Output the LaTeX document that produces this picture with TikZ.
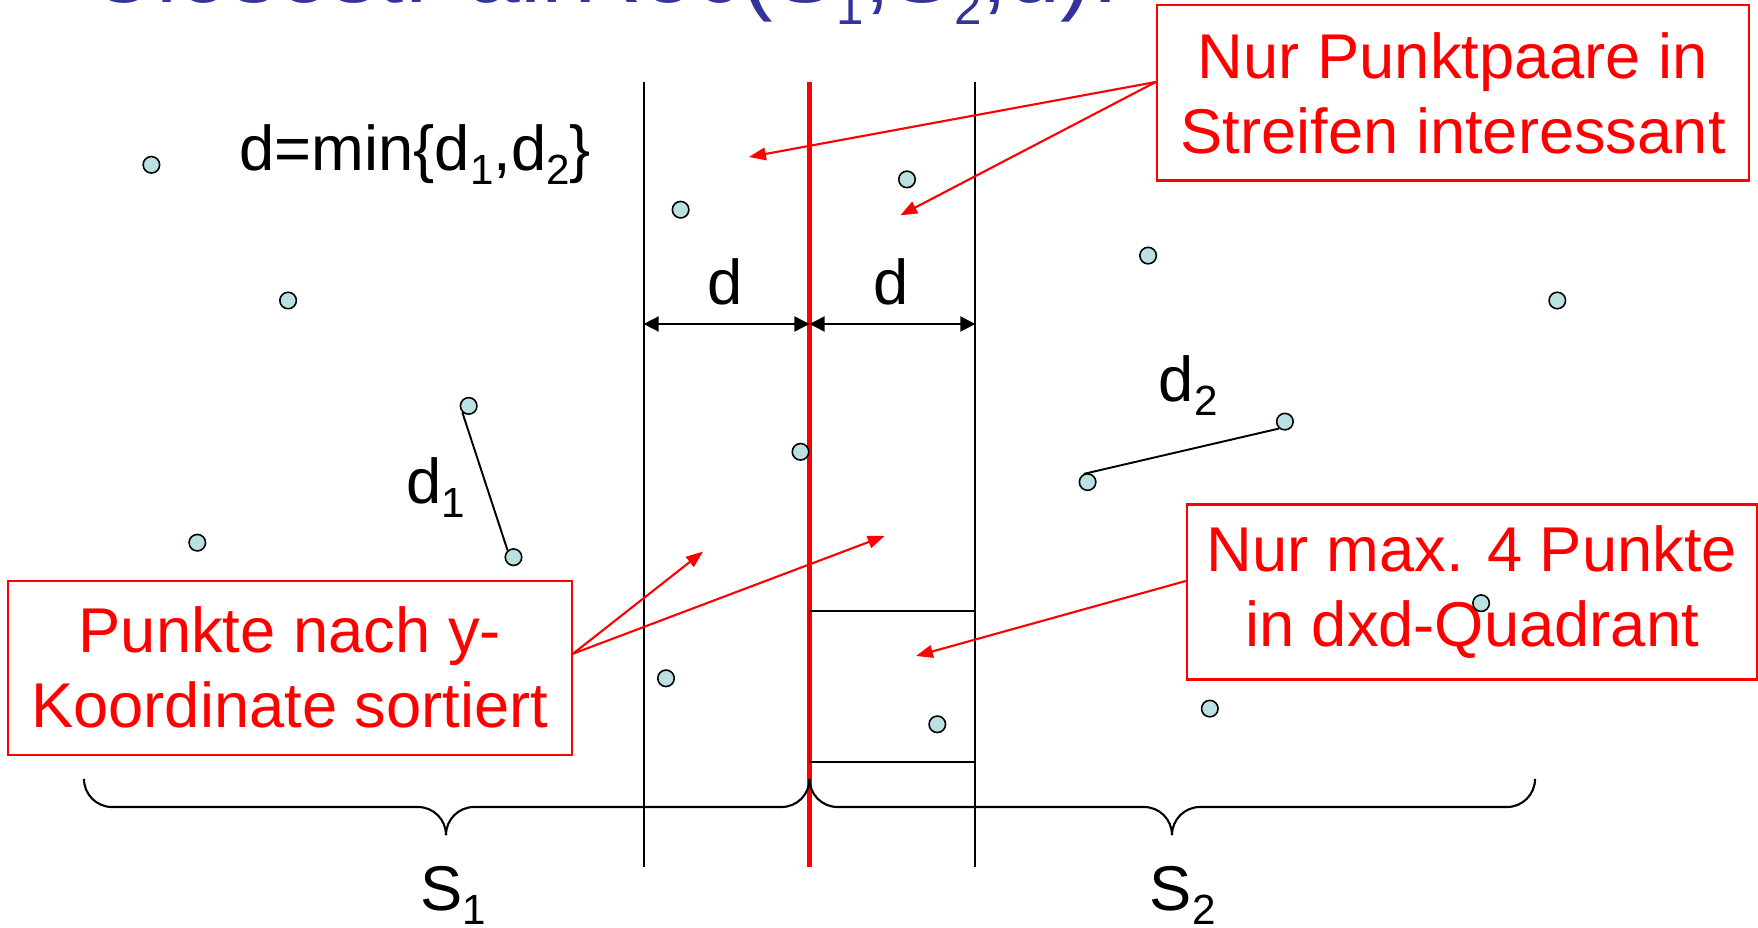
\documentclass[tikz,border=0pt]{standalone}
\usepackage{fontspec}
\setmainfont{Liberation Sans}
\definecolor{pptred}{RGB}{255, 0, 0}
\definecolor{pptblue}{RGB}{51, 51, 153}
\definecolor{ptfill}{RGB}{186, 224, 226}
\usetikzlibrary{arrows.meta, positioning, calc}
% Lowered index in the slide font (#1 = size in pt).
\newcommand{\subidx}[2][12]{\raisebox{-0.23em}{\fontsize{#1}{#1}\selectfont #2}}
\tikzset{
  % Sample points.
  pt/.style={
    circle, draw=black, line width=0.45pt,
    fill=ptfill, inner sep=0pt, minimum size=1.65mm,
  },
  % Red comment boxes.
  note/.style={
    rectangle, draw=pptred, line width=0.6pt, fill=white,
    text=pptred, align=center,
    font=\fontsize{18}{21.3}\selectfont,
  },
  % Black annotations.
  lbl/.style={font=\fontsize{18}{21.3}\selectfont, inner sep=0pt},
  headline/.style={font=\fontsize{27}{30}\selectfont, text=pptblue, inner sep=0pt},
  % Lines.
  strip/.style={draw=black, line width=0.55pt},
  divider/.style={draw=pptred, line width=1.4pt},
  dim/.style={
    {Triangle[length=4.3pt, width=4.3pt]}-{Triangle[length=4.3pt, width=4.3pt]},
    line width=0.45pt,
  },
  pointer/.style={
    -{Triangle[length=4.8pt, width=3.6pt]},
    draw=pptred, line width=0.6pt,
  },
  bracket/.style={draw=black, line width=0.6pt, rounded corners=0.28cm},
}

\begin{document}
\begin{tikzpicture}[x=0.01cm, y=-0.01cm]
  \useasboundingbox (0,0) rectangle (1758,928);
  \clip (0,0) rectangle (1758,928);

  % Title, cut off by the slide edge.
  \node[headline, anchor=base west] (title) at (87,3)
    {ClosestPairRec(S\subidx[14]{1},S\subidx[14]{2},d):};

  % Dividing line and strip of width 2d.
  \draw[divider] (809.5,82) -- (809.5,867);
  \draw[strip] (643.6,82) -- (643.6,867);
  \draw[strip] (975.4,82) -- (975.4,867);
  \draw[strip] (809.5,611) rectangle (975.4,762.4);

  \coordinate (dl) at (643.6,324);
  \coordinate (dm) at (809.5,324);
  \coordinate (dr) at (975.4,324);
  \draw[dim] (dl) -- (dm);
  \draw[dim] (dm) -- (dr);
  \node[lbl, anchor=base] (dlab1) at (725.4,305) {d};
  \node[lbl, anchor=base] (dlab2) at (891.4,305) {d};

  % Comment boxes.
  \node[note, minimum width=5.92cm, minimum height=1.75cm] (strf) at (1453,93)
    {Nur Punktpaare in\\Streifen interessant};
  \node[note, minimum width=5.64cm, minimum height=1.74cm] (sort) at (289.8,667.7)
    {Punkte nach y-\\Koordinate sortiert};
  \node[note, minimum width=5.70cm, minimum height=1.75cm] (quad) at (1472,592)
    {Nur max. 4 Punkte\\in dxd-Quadrant};

  \coordinate (t1a) at (749,157);
  \coordinate (t1b) at (900.3,215.3);
  \coordinate (t2a) at (703,551.6);
  \coordinate (t2b) at (884.6,536);
  \coordinate (t3) at (916,656);
  \draw[pointer] ([yshift=0.11cm]strf.west) -- (t1a);
  \draw[pointer] ([yshift=0.11cm]strf.west) -- (t1b);
  \draw[pointer] ([yshift=0.14cm]sort.east) -- (t2a);
  \draw[pointer] ([yshift=0.14cm]sort.east) -- (t2b);
  \draw[pointer] ([yshift=0.11cm]quad.west) -- (t3);

  % Points.
  \foreach \x/\y [count=\i] in {151.4/164.8, 288.1/300.5, 468.7/405.9,
      513.5/557.2, 197.3/542.7, 680.6/209.7, 800.5/451.8, 666/678.3,
      907/179.4, 937.3/724.3, 1148.1/255.6, 1557.3/300.5, 1284.9/421.6,
      1087.6/482.1, 1481.1/603.2, 1209.8/708.6}
    \node[pt] (p\i) at (\x,\y) {};

  % Closest pairs on each side.
  \draw[strip] (p3.225) -- (p4.131);
  \draw[strip] (p14.115) -- (p13.230);
  \node[lbl, anchor=base west] (dmin) at (239,170.4)
    {d=min\{d\subidx{1},d\subidx{2}\}};
  \node[lbl, anchor=base west] (done) at (405.9,503.4) {d\subidx{1}};
  \node[lbl, anchor=base west] (dtwo) at (1158.2,401.4) {d\subidx{2}};

  % Halves S1 and S2.
  \draw[bracket] (84,779) |- (446,807) -- (446,835);
  \draw[bracket] (446,835) -- (446,807) -| (809.5,779);
  \draw[bracket] (809.5,779) |- (1172,807) -- (1172,835);
  \draw[bracket] (1172,835) -- (1172,807) -| (1535,779);
  \node[lbl, anchor=base west] (sone) at (419.3,910.4) {S\subidx{1}};
  \node[lbl, anchor=base west] (stwo) at (1149.2,910.4) {S\subidx{2}};
\end{tikzpicture}
\end{document}
